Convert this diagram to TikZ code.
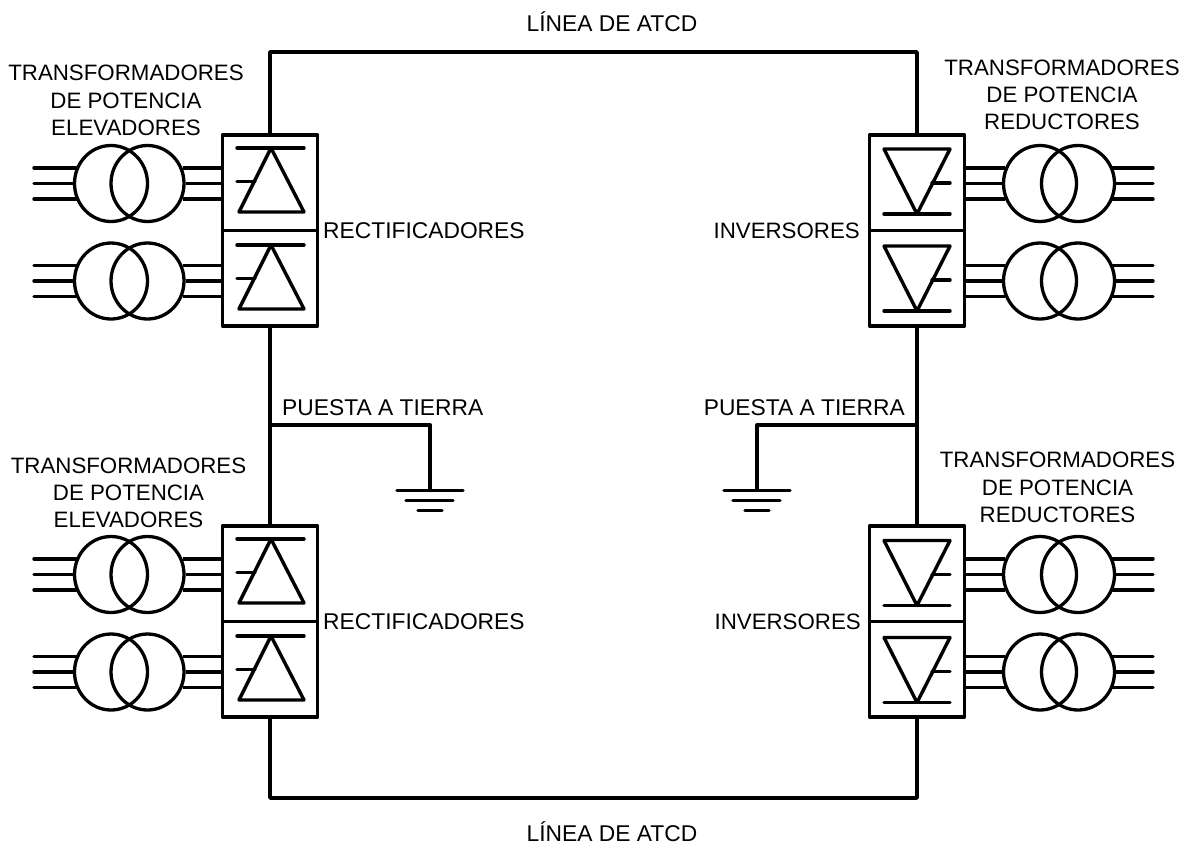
\documentclass[tikz,border=0pt]{standalone}
\usepackage{fontspec}
\setmainfont{Liberation Sans}
\usepackage{xcolor}
\usetikzlibrary{positioning,calc,shapes.geometric}
\tikzset{
  wire/.style={line width=3.4pt, draw=black, line cap=round, line join=round},
  coil/.style={ellipse, draw=black, line width=3.3pt, minimum width=73pt, minimum height=76pt, inner sep=0pt},
  valve/.style={rectangle, draw=black, line width=3.3pt, line join=round, minimum width=95pt, minimum height=95.4pt, inner sep=0pt},
  caption/.style={align=center, inner sep=0pt, font=\fontsize{22.3}{27.2}\selectfont},
  tag/.style={caption, font=\fontsize{22.8}{27.2}\selectfont},
  thyrup/.pic={
    \draw[wire] (-33,-33.5) -- (34,-33.5);
    \draw[wire] (1,-33.5) -- (-31,30.5) -- (34,30.5) -- cycle;
    \draw[wire] (-33,0) -- (-15,0);
  },
  thyrdown/.pic={
    \draw[wire] (-33,32.5) -- (33,32.5);
    \draw[wire] (-33,-32.5) -- (33,-32.5) -- (0,32.5) -- cycle;
    \draw[wire] (15,1.5) -- (33,1.5);
  },
}
\begin{document}
\begin{tikzpicture}[x=1pt,y=-1pt]
\useasboundingbox (0,0) rectangle (1185,844);
% ---------- valve groups ----------
\foreach \nm/\xx/\yy/\py/\sym in {recta/270/182.8/181.5/thyrup, rectb/270/278.2/278.5/thyrup,
  rectc/270/573.8/572.5/thyrup, rectd/270/669.2/669.5/thyrup,
  inva/917/182.8/181.5/thyrdown, invb/917/278.2/278.5/thyrdown,
  invc/917/573.8/573/thyrdown, invd/917/669.2/670/thyrdown}{
  \node[valve] (\nm) at (\xx,\yy) {};
  \pic at (\xx,\py) {\sym};
}
% ---------- left transformers ----------
\foreach \nm/\yy/\val in {ta/183.5/recta, tb/281/rectb, tc/574.5/rectc, td/672/rectd}{
  \node[coil] (\nm in) at (111,\yy) {};
  \node[coil] (\nm out) at (147.5,\yy) {};
  \coordinate (\nm free) at (34,\yy);
  \foreach \ang/\bng in {156/24, 180/0, 204/-24}{
    \draw[wire] (\nm in.\ang) -- (\nm in.\ang -| \nm free);
    \draw[wire, line cap=butt] (\nm out.\bng) -- (\nm out.\bng -| \val.west);
  }
}
% ---------- right transformers ----------
\foreach \nm/\yy/\val in {ua/183.5/inva, ub/281/invb, uc/574.5/invc, ud/672/invd}{
  \node[coil] (\nm in) at (1040,\yy) {};
  \node[coil] (\nm out) at (1078,\yy) {};
  \coordinate (\nm free) at (1153,\yy);
  \foreach \ang/\bng in {156/24, 180/0, 204/-24}{
    \draw[wire, line cap=butt] (\nm in.\ang) -- (\nm in.\ang -| \val.east);
    \draw[wire] (\nm out.\bng) -- (\nm out.\bng -| \nm free);
  }
}
% ---------- dc line ----------
\coordinate (lineTL) at (270,52);
\coordinate (lineTR) at (917,52);
\coordinate (lineBL) at (270,798);
\coordinate (lineBR) at (917,798);
\draw[wire] (recta.north) -- (lineTL) -- (lineTR) -- (inva.north);
\draw[wire] (rectd.south) -- (lineBL) -- (lineBR) -- (invd.south);
\draw[wire] (rectb.south) -- (rectc.north);
\draw[wire] (invb.south) -- (invc.north);
% ---------- grounding ----------
\coordinate (tapL) at (270,425);
\coordinate (tapR) at (917,425);
\coordinate (earthL) at (430,490.5);
\coordinate (earthR) at (757,490.5);
\draw[wire] (tapL) -| (earthL);
\draw[wire] (tapR) -| (earthR);
\foreach \pt in {earthL, earthR}{
  \draw[wire] ($(\pt)+(-33,0)$) -- ($(\pt)+(33,0)$);
  \draw[wire] ($(\pt)+(-24,10)$) -- ($(\pt)+(23,10)$);
  \draw[wire] ($(\pt)+(-12,20)$) -- ($(\pt)+(12,20)$);
}
% ---------- labels ----------
\node[tag] (linetop) at (612,22) {LÍNEA DE ATCD};
\node[tag] (linebot) at (612,831.5) {LÍNEA DE ATCD};
\node[caption] (capta) at (126,100.5) {TRANSFORMADORES\\DE POTENCIA\\ELEVADORES};
\node[caption] (captb) at (128.5,493) {TRANSFORMADORES\\DE POTENCIA\\ELEVADORES};
\node[caption] (capua) at (1062,95) {TRANSFORMADORES\\DE POTENCIA\\REDUCTORES};
\node[caption] (capub) at (1057.5,487.5) {TRANSFORMADORES\\DE POTENCIA\\REDUCTORES};
\node[tag, anchor=west] (labrecta) at (323,231) {RECTIFICADORES};
\node[tag, anchor=west] (labrectb) at (323,622) {RECTIFICADORES};
\node[caption, anchor=east] (labinva) at (860,231) {INVERSORES};
\node[caption, anchor=east] (labinvb) at (861,622) {INVERSORES};
\node[tag, anchor=west] (labgndL) at (282,408) {PUESTA A TIERRA};
\node[tag, anchor=east] (labgndR) at (905,408) {PUESTA A TIERRA};
\end{tikzpicture}
\end{document}
